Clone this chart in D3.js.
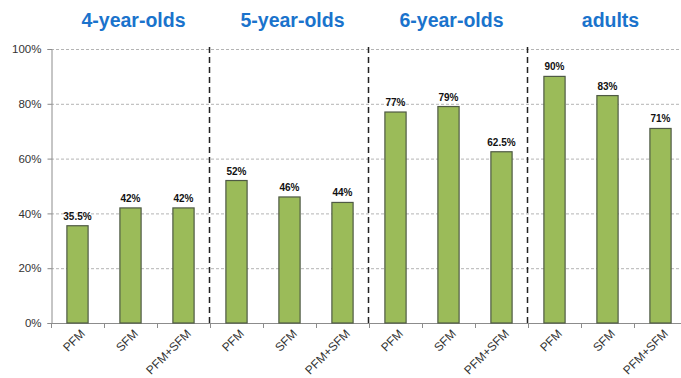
<!DOCTYPE html>
<html>
<head>
<meta charset="utf-8">
<script src="https://cdn.jsdelivr.net/npm/d3@7"></script>
<style>
  body { margin: 0; background: #fff; }
  svg { display: block; font-family: "Liberation Sans", Arial, sans-serif; }
</style>
</head>
<body>
<svg id="chart" width="681" height="378"></svg>
<script>
"use strict";

// data
const groups = ["4-year-olds", "5-year-olds", "6-year-olds", "adults"];
const conditions = ["PFM", "SFM", "PFM+SFM"];
const values = [
  [35.5, 42, 42],
  [52, 46, 44],
  [77, 79, 62.5],
  [90, 83, 71]
];
const valueLabels = [
  ["35.5%", "42%", "42%"],
  ["52%", "46%", "44%"],
  ["77%", "79%", "62.5%"],
  ["90%", "83%", "71%"]
];
const yTicks = [0, 20, 40, 60, 80, 100];

const plotLeft = 51;
const plotRight = 687;
const plotTop = 49;
const plotBottom = 323;

const svg = d3.select("#chart");

// flat list of bars
let bars = [];
groups.forEach(function (g, gi) {
  conditions.forEach(function (c, ci) {
    bars.push({
      key: gi + "-" + ci,
      group: g,
      cond: c,
      value: values[gi][ci],
      label: valueLabels[gi][ci]
    });
  });
});

const x = d3.scaleBand()
  .domain(bars.map((d) => d.key))
  .range([plotLeft, plotRight])
  .paddingInner(0.6)
  .paddingOuter(0.3);

const y = d3.scaleLinear().domain([0, 100]).range([plotBottom, plotTop]);

// gridlines
svg.append("g")
  .selectAll("line")
  .data(yTicks.filter((t) => t > 0))
  .enter()
  .append("line")
  .attr("x1", plotLeft)
  .attr("x2", 681)
  .attr("y1", (d) => y(d) + 0.5)
  .attr("y2", (d) => y(d) + 0.5)
  .attr("stroke", "#b4b4b4")
  .attr("stroke-width", 1)
  .attr("stroke-dasharray", "3,2");

// y axis
const yAxis = svg.append("g")
  .attr("transform", `translate(${plotLeft + 0.5},0)`)
  .call(d3.axisLeft(y).tickValues(yTicks).tickSize(4).tickPadding(6).tickFormat((d) => d + "%"));
yAxis.select(".domain").attr("stroke", "#8c8c8c");
yAxis.selectAll(".tick line").attr("stroke", "#8c8c8c");
yAxis.selectAll("text").attr("font-size", "11.5px").attr("fill", "#333").attr("font-family", null);

// x axis baseline + ticks at band boundaries
const step = x.step();
const boundaries = d3.range(bars.length + 1).map((i) => plotLeft + i * step);
svg.append("line")
  .attr("x1", plotLeft)
  .attr("x2", 681)
  .attr("y1", plotBottom + 0.5)
  .attr("y2", plotBottom + 0.5)
  .attr("stroke", "#8c8c8c");
svg.append("g")
  .selectAll("line")
  .data(boundaries)
  .enter()
  .append("line")
  .attr("x1", (d) => Math.round(d) + 0.5)
  .attr("x2", (d) => Math.round(d) + 0.5)
  .attr("y1", plotBottom)
  .attr("y2", plotBottom + 5)
  .attr("stroke", "#8c8c8c");

// x labels
svg.append("g")
  .selectAll("text")
  .data(bars)
  .enter()
  .append("text")
  .attr("transform", (d) => `translate(${x(d.key) + x.bandwidth() / 2 + 2},${plotBottom + 5}) rotate(-45)`)
  .attr("text-anchor", "end")
  .attr("dy", "0.75em")
  .attr("font-size", "12px")
  .attr("fill", "#333")
  .text((d) => d.cond);

// bars
svg.append("g")
  .selectAll("rect")
  .data(bars)
  .enter()
  .append("rect")
  .attr("x", (d) => x(d.key))
  .attr("y", (d) => y(d.value))
  .attr("width", x.bandwidth())
  .attr("height", (d) => plotBottom - y(d.value))
  .attr("fill", "#9bbb59")
  .attr("stroke", "#4f5a45")
  .attr("stroke-width", 1.2);

// value labels
svg.append("g")
  .selectAll("text")
  .data(bars)
  .enter()
  .append("text")
  .attr("x", (d) => x(d.key) + x.bandwidth() / 2)
  .attr("y", (d) => y(d.value) - 6)
  .attr("text-anchor", "middle")
  .attr("font-size", "10px")
  .attr("font-weight", "bold")
  .attr("fill", "#111")
  .text((d) => d.label);

// group dividers
svg.append("g")
  .selectAll("line")
  .data(groups.slice(1))
  .enter()
  .append("line")
  .attr("x1", (d, i) => Math.round(boundaries[(i + 1) * 3]) - 0.5)
  .attr("x2", (d, i) => Math.round(boundaries[(i + 1) * 3]) - 0.5)
  .attr("y1", plotTop - 2)
  .attr("y2", plotBottom)
  .attr("stroke", "#222")
  .attr("stroke-width", 1.5)
  .attr("stroke-dasharray", "6,4");

// group titles
svg.append("g")
  .selectAll("text")
  .data(groups)
  .enter()
  .append("text")
  .attr("x", (d, i) => (boundaries[i * 3] + boundaries[i * 3 + 3]) / 2 + 3)
  .attr("y", 27)
  .attr("text-anchor", "middle")
  .attr("font-size", "19.5px")
  .attr("font-weight", "bold")
  .attr("fill", "#1a73cc")
  .text((d) => d);
</script>
</body>
</html>
